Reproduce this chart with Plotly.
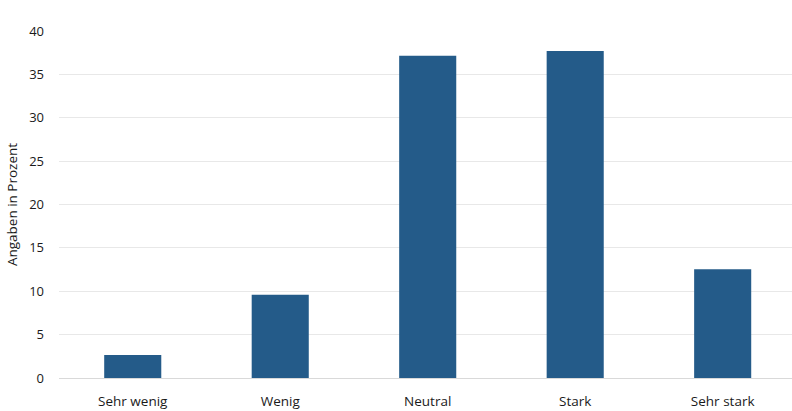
import plotly.graph_objects as go

# Survey responses (share of respondents, %)
categories = ["Sehr wenig", "Wenig", "Neutral", "Stark", "Sehr stark"]
values = [2.65, 9.6, 37.15, 37.7, 12.55]
y_ticks = [0, 5, 10, 15, 20, 25, 30, 35, 40]

fig = go.Figure(
    go.Bar(
        x=categories,
        y=values,
        marker=dict(color="#245b89", line=dict(width=0)),
        hoverinfo="x+y",
    )
)

fig.update_layout(
    width=792,
    height=411,
    margin=dict(l=59, r=0, t=31, b=33),
    paper_bgcolor="white",
    plot_bgcolor="white",
    bargap=0.613,
    font=dict(family="Open Sans, Liberation Sans, sans-serif", size=13, color="#1a1a1a"),
    showlegend=False,
)

fig.update_xaxes(
    range=[-0.5, 4.47],
    showgrid=False,
    showline=True,
    linecolor="#d9d9d9",
    linewidth=1,
    ticks="",
    ticklabelstandoff=11,
    tickfont=dict(size=13.5),
)

fig.update_yaxes(
    range=[0, 40],
    tickvals=y_ticks,
    showgrid=True,
    gridcolor="#e8e8e8",
    gridwidth=1,
    zeroline=False,
    showline=False,
    ticks="",
    ticklabelstandoff=14,
    tickfont=dict(size=13),
    title=dict(text="Angaben in Prozent", font=dict(size=13.5), standoff=8),
)

fig.write_html("out.html")
